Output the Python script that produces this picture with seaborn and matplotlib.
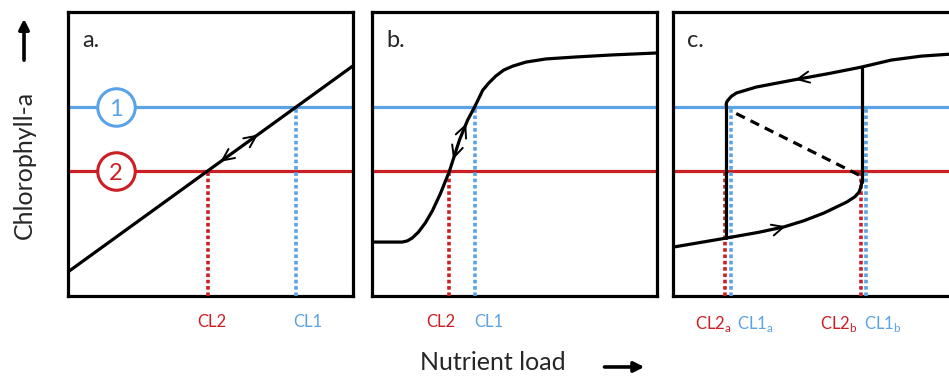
import numpy as np
import seaborn as sns
import matplotlib.pyplot as plt

sns.set_style("white")
plt.rcParams["font.family"] = ["Lato", "DejaVu Sans"]
plt.rcParams["mathtext.fontset"] = "custom"
plt.rcParams["mathtext.rm"] = "Lato"

BLUE = "#5aa3e6"
RED = "#cc1f24"

# thresholds (chlorophyll levels)
level1 = 0.665
level2 = 0.44

# panel a: linear response
a_x = [0.0, 1.0]
a_y = [0.085, 0.81]
a_cl2, a_cl1 = 0.49, 0.80
a_ticks = [0.505, 0.842]
a_labels = ["CL2", "CL1"]

# panel b: sigmoid response
b_x = [0.0, 0.106, 0.124, 0.141, 0.163, 0.187, 0.212, 0.240, 0.272, 0.307,
       0.336, 0.360, 0.389, 0.410, 0.435, 0.463, 0.495, 0.541, 0.611, 0.717,
       0.841, 1.0]
b_y = [0.190, 0.190, 0.194, 0.204, 0.225, 0.257, 0.300, 0.360, 0.440, 0.549,
       0.620, 0.665, 0.725, 0.750, 0.775, 0.796, 0.810, 0.824, 0.835, 0.842,
       0.849, 0.856]
b_cl2, b_cl1 = 0.272, 0.360
b_ticks = [0.240, 0.410]
b_labels = ["CL2", "CL1"]

# panel c: hysteresis
c_low_x = [0.0, 0.187, 0.300, 0.389, 0.460, 0.530, 0.611, 0.640, 0.654, 0.661, 0.664]
c_low_y = [0.172, 0.204, 0.224, 0.243, 0.265, 0.292, 0.331, 0.350, 0.366, 0.385, 0.405]
c_up_x = [0.187, 0.189, 0.194, 0.205, 0.223, 0.293, 0.424, 0.550, 0.661, 0.767, 0.873, 0.975, 1.0]
c_up_y = [0.673, 0.683, 0.690, 0.703, 0.715, 0.736, 0.761, 0.784, 0.806, 0.831, 0.845, 0.852, 0.854]
c_drop_x = [0.187, 0.187]
c_drop_y = [0.673, 0.204]
c_jump_x = [0.664, 0.664]
c_jump_y = [0.806, 0.400]
c_unst_x = [0.654, 0.212]
c_unst_y = [0.426, 0.648]
c_cl2 = [0.184, 0.661]
c_cl1 = [0.205, 0.680]
c_ticks = [0.141, 0.290, 0.583, 0.739]
c_labels = [r"CL2$_\mathregular{a}$", r"CL1$_\mathregular{a}$",
            r"CL2$_\mathregular{b}$", r"CL1$_\mathregular{b}$"]
c_tick_colors = [RED, BLUE, RED, BLUE]

fig = plt.figure(figsize=(9.49, 3.76), dpi=100)
ax_a = fig.add_axes([0.0717, 0.2128, 0.300, 0.755])
ax_b = fig.add_axes([0.392, 0.2128, 0.300, 0.755])
ax_c = fig.add_axes([0.709, 0.2128, 0.300, 0.755])

LW = 2.3
dots = (0, (1.0, 0.75))


def base(ax, letter):
    ax.set_xlim(0, 1)
    ax.set_ylim(0, 1)
    for s in ax.spines.values():
        s.set_visible(True)
        s.set_color("black")
        s.set_linewidth(2.3)
    ax.tick_params(axis="both", length=0, pad=13, labelsize=12)
    ax.set_yticks([])
    ax.axhline(level1, color=BLUE, lw=LW, zorder=2)
    ax.axhline(level2, color=RED, lw=LW, zorder=2)
    ax.text(0.05, 0.877, letter, transform=ax.transAxes, fontsize=17,
            va="baseline", ha="left")


def vdot(ax, x, top, color):
    ax.plot([x, x], [0, top], color=color, lw=2.6, linestyle=dots,
            dash_capstyle="butt", zorder=3)


def chevron(ax, xs, ys, xpos, forward=True, dx=0.012):
    y0 = np.interp(xpos, xs, ys)
    y1 = np.interp(xpos + dx, xs, ys)
    if forward:
        start, end = (xpos, y0), (xpos + dx, y1)
    else:
        start, end = (xpos + dx, y1), (xpos, y0)
    ax.annotate("", xy=end, xytext=start,
                arrowprops=dict(arrowstyle="->,head_length=0.85,head_width=0.4",
                                color="black", lw=1.4, shrinkA=0, shrinkB=0),
                zorder=5)


def set_ticks(ax, ticks, labels, colors):
    ax.set_xticks(ticks)
    ax.set_xticklabels(labels)
    for t, c in zip(ax.get_xticklabels(), colors):
        t.set_color(c)


# panel a
base(ax_a, "a.")
sns.lineplot(x=a_x, y=a_y, ax=ax_a, color="black", lw=LW, zorder=4)
vdot(ax_a, a_cl2, level2, RED)
vdot(ax_a, a_cl1, level1, BLUE)
chevron(ax_a, a_x, a_y, 0.655, forward=True)
chevron(ax_a, a_x, a_y, 0.535, forward=False)
for lvl, col, lab in [(level1, BLUE, "1"), (level2, RED, "2")]:
    ax_a.plot([0.168], [lvl], marker="o", ms=27, mfc="white", mec=col,
              mew=2.2, zorder=6)
    ax_a.text(0.168, lvl, lab, color=col, fontsize=17, ha="center",
              va="center_baseline", zorder=7)
set_ticks(ax_a, a_ticks, a_labels, [RED, BLUE])

# panel b
base(ax_b, "b.")
sns.lineplot(x=b_x, y=b_y, ax=ax_b, color="black", lw=LW, zorder=4,
             sort=False, estimator=None)
vdot(ax_b, b_cl2, level2, RED)
vdot(ax_b, b_cl1, level1, BLUE)
chevron(ax_b, b_x, b_y, 0.325, forward=True, dx=0.006)
chevron(ax_b, b_x, b_y, 0.285, forward=False, dx=0.006)
set_ticks(ax_b, b_ticks, b_labels, [RED, BLUE])

# panel c
base(ax_c, "c.")
for xs, ys in [(c_low_x, c_low_y), (c_up_x, c_up_y),
               (c_drop_x, c_drop_y), (c_jump_x, c_jump_y)]:
    sns.lineplot(x=xs, y=ys, ax=ax_c, color="black", lw=LW, zorder=4,
                 sort=False, estimator=None)
ax_c.plot(c_unst_x, c_unst_y, color="black", lw=LW, linestyle=(0, (3, 2)),
          zorder=4)
for x in c_cl2:
    vdot(ax_c, x, level2, RED)
for x in c_cl1:
    vdot(ax_c, x, level1, BLUE)
chevron(ax_c, c_up_x, c_up_y, 0.430, forward=False)
chevron(ax_c, c_low_x, c_low_y, 0.385, forward=True)
set_ticks(ax_c, c_ticks, c_labels, c_tick_colors)

# axis titles with arrows
fig.text(0.026, 0.561, "Chlorophyll-a", rotation=90, fontsize=18,
         ha="center", va="center")
fig.text(0.519, 0.035, "Nutrient load", fontsize=18, ha="center", va="center")
arrow_props = dict(arrowstyle="-|>,head_length=0.6,head_width=0.3",
                   color="black", lw=2.6, shrinkA=0, shrinkB=0)
ax_a.annotate("", xy=(0.0253, 0.95), xytext=(0.0253, 0.84),
              xycoords="figure fraction", textcoords="figure fraction",
              arrowprops=arrow_props, annotation_clip=False)
ax_a.annotate("", xy=(0.679, 0.024), xytext=(0.637, 0.024),
              xycoords="figure fraction", textcoords="figure fraction",
              arrowprops=arrow_props, annotation_clip=False)

fig.savefig("out.png", dpi=100)
